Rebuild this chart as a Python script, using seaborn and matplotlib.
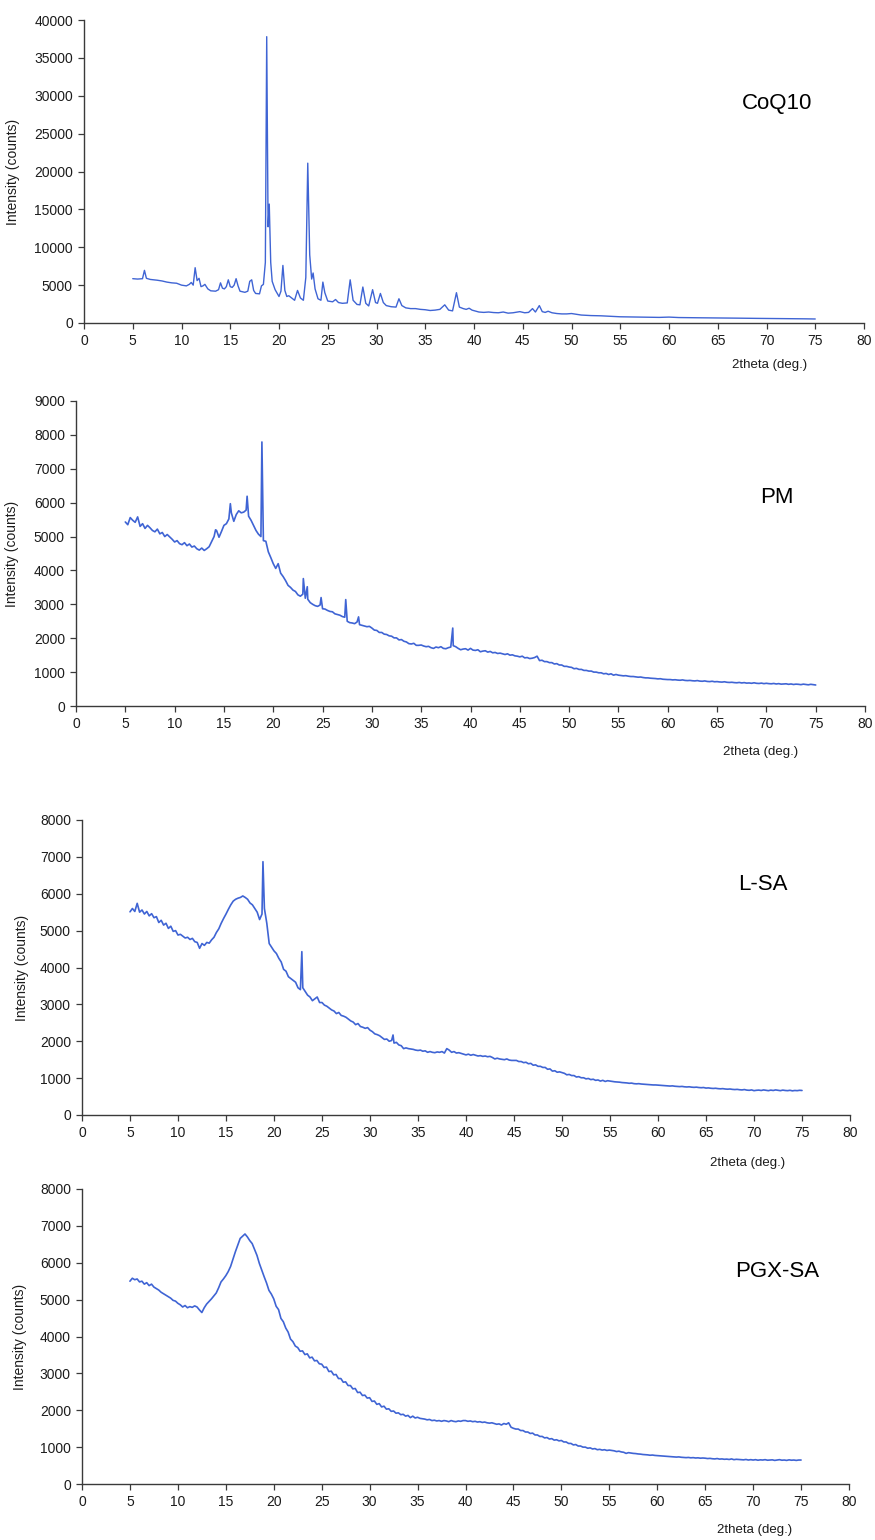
import numpy as np
import pandas as pd
import matplotlib
matplotlib.use("Agg")
import matplotlib.pyplot as plt
import seaborn as sns

# ---------------------------------------------------------------- data
# CoQ10: crystalline pattern, sampled around each reflection
coq10_tt = [
    5.0, 5.5, 6.0, 6.2, 6.4, 6.8, 7.5, 8.0, 8.5, 9.0,
    9.5, 10.0, 10.5, 10.8, 11.0, 11.2, 11.4, 11.6, 11.8, 12.0,
    12.2, 12.4, 12.7, 13.0, 13.5, 13.8, 14.0, 14.2, 14.4, 14.6,
    14.8, 15.0, 15.2, 15.4, 15.6, 15.8, 16.0, 16.5, 16.8, 17.0,
    17.2, 17.4, 17.6, 18.0, 18.2, 18.4, 18.6, 18.74, 18.88, 19.0,
    19.15, 19.3, 19.6, 20.0, 20.2, 20.4, 20.6, 20.8, 21.0, 21.3,
    21.6, 21.9, 22.2, 22.5, 22.75, 22.95, 23.15, 23.35, 23.5, 23.7,
    24.0, 24.3, 24.5, 24.7, 25.0, 25.5, 25.8, 26.1, 26.5, 27.0,
    27.3, 27.6, 28.0, 28.3, 28.6, 28.9, 29.2, 29.6, 29.9, 30.1,
    30.4, 30.7, 31.0, 31.5, 32.0, 32.3, 32.6, 33.0, 33.5, 34.0,
    34.5, 35.0, 35.5, 36.0, 36.5, 37.0, 37.4, 37.8, 38.2, 38.5,
    38.9, 39.2, 39.5, 39.8, 40.5, 41.0, 41.5, 42.0, 42.5, 43.0,
    43.5, 44.0, 44.7, 45.2, 45.6, 46.0, 46.3, 46.7, 47.0, 47.3,
    47.6, 48.0, 48.5, 49.0, 49.5, 50.0, 50.5, 51.0, 52.0, 53.0,
    54.0, 55.0, 56.0, 57.0, 58.0, 59.0, 60.0, 61.0, 62.0, 63.0,
    64.0, 65.0, 66.0, 67.0, 68.0, 69.0, 70.0, 71.0, 72.0, 73.0,
    74.0, 75.0,
]
coq10_counts = [
    5850, 5800, 5850, 6950, 5900, 5750, 5650, 5550, 5400, 5300,
    5250, 5000, 4900, 5100, 5350, 5000, 7300, 5600, 5900, 4800,
    4900, 5100, 4500, 4250, 4200, 4400, 5300, 4600, 4500, 4800,
    5700, 4800, 4700, 5000, 5850, 4900, 4200, 4050, 4200, 5500,
    5700, 4300, 3900, 3850, 4900, 5100, 8000, 37800, 12700, 15700,
    8000, 5500, 4400, 3500, 4200, 7600, 4300, 3500, 3600, 3300,
    3000, 4300, 3300, 3000, 6000, 21100, 9000, 5800, 6600, 4500,
    3200, 3000, 5400, 4000, 2900, 2800, 3100, 2700, 2600, 2650,
    5700, 3000, 2450, 2400, 4750, 2600, 2250, 4400, 2700, 2600,
    3900, 2700, 2300, 2150, 2100, 3200, 2300, 2000, 1900, 1900,
    1800, 1750, 1650, 1700, 1800, 2400, 1700, 1600, 4000, 2100,
    1900, 1800, 1950, 1700, 1450, 1400, 1450, 1380, 1350, 1450,
    1300, 1350, 1500, 1350, 1400, 1900, 1450, 2300, 1500, 1400,
    1550, 1350, 1250, 1200, 1200, 1250, 1150, 1050, 980, 950,
    880, 820, 800, 780, 760, 740, 780, 720, 700, 690,
    680, 660, 650, 640, 620, 610, 600, 590, 580, 570,
    550, 530,
]

# Amorphous samples: 0.25 deg scan steps from 5 to 75 deg
scan_tt = np.round(np.arange(5.0, 75.001, 0.25), 2)

pm_counts = [
    5430, 5350, 5560, 5480, 5420, 5580, 5300, 5380, 5240, 5330, 5260, 5180, 5140, 5220, 5080, 5120, 5000, 5060, 4990, 4920,
    4840, 4880, 4790, 4760, 4820, 4730, 4780, 4690, 4720, 4640, 4600, 4660, 4590, 4640, 4700, 4850, 5000, 5180, 4980, 5150,
    5330, 5380, 5520, 5700, 5450, 5650, 5760, 5700, 5720, 5780, 5600, 5480, 5330, 5180, 5070, 5000, 4880, 4860, 4550, 4380,
    4200, 4060, 4200, 3920, 3820, 3700, 3560, 3500, 3420, 3380, 3280, 3240, 3300, 3180, 3150, 3050, 3000, 2960, 2940, 2980,
    2870, 2860, 2820, 2790, 2780, 2720, 2700, 2680, 2640, 2620, 2500, 2460, 2450, 2430, 2480, 2400, 2380, 2360, 2340, 2350,
    2300, 2240, 2230, 2170, 2170, 2120, 2110, 2070, 2060, 2010, 2010, 1950, 1960, 1910, 1890, 1840, 1830, 1850, 1790, 1790,
    1800, 1770, 1750, 1760, 1720, 1700, 1740, 1720, 1750, 1700, 1690, 1720, 1740, 1780, 1750, 1700, 1660, 1680, 1690, 1650,
    1700, 1650, 1640, 1660, 1600, 1620, 1630, 1590, 1610, 1570, 1580, 1550, 1560, 1540, 1520, 1540, 1500, 1510, 1480, 1470,
    1450, 1470, 1420, 1430, 1400, 1410, 1430, 1470, 1340, 1350, 1310, 1310, 1280, 1280, 1240, 1250, 1210, 1210, 1170, 1170,
    1150, 1140, 1100, 1110, 1080, 1080, 1050, 1050, 1030, 1030, 1000, 1000, 980, 980, 950, 960, 930, 950, 910, 930,
    910, 900, 890, 895, 880, 870, 870, 860, 850, 855, 840, 830, 830, 820, 815, 810, 800, 805, 790, 785,
    780, 780, 770, 775, 765, 760, 770, 755, 750, 755, 745, 740, 750, 735, 730, 740, 725, 720, 730, 715,
    720, 710, 705, 715, 700, 695, 700, 690, 685, 695, 680, 690, 675, 680, 670, 685, 670, 665, 675, 660,
    670, 660, 655, 665, 650, 660, 645, 650, 655, 640, 650, 635, 645, 640, 630, 645, 635, 625, 640, 630,
    620,
]
pm_peak_tt = [14.15, 15.65, 17.35, 18.85, 23.05, 23.45, 24.85, 27.35, 28.65, 38.2]
pm_peak_counts = [5200, 5970, 6190, 7790, 3760, 3520, 3200, 3140, 2630, 2300]

lsa_counts = [
    5510, 5600, 5520, 5740, 5500, 5560, 5450, 5520, 5400, 5460, 5350, 5380, 5220, 5280, 5150, 5200, 5060, 5120, 4980, 5000,
    4880, 4900, 4850, 4800, 4820, 4760, 4790, 4700, 4680, 4520, 4650, 4600, 4680, 4660, 4750, 4820, 4950, 5050, 5200, 5330,
    5450, 5580, 5700, 5800, 5850, 5880, 5900, 5940, 5900, 5850, 5750, 5700, 5600, 5500, 5300, 5450, 5600, 5200, 4650, 4550,
    4450, 4380, 4250, 4150, 3950, 3900, 3750, 3700, 3650, 3600, 3450, 3400, 3450, 3350, 3250, 3200, 3100, 3150, 3200, 3050,
    3050, 2980, 2950, 2900, 2850, 2820, 2750, 2780, 2700, 2680, 2650, 2600, 2550, 2520, 2450, 2480, 2400, 2380, 2350, 2370,
    2300, 2260, 2200, 2180, 2150, 2100, 2050, 2060, 2000, 2020, 1950, 1970, 1900, 1880, 1800, 1820, 1800, 1790, 1780, 1760,
    1750, 1760, 1730, 1740, 1700, 1720, 1700, 1690, 1710, 1700, 1720, 1680, 1800, 1760, 1700, 1720, 1680, 1690, 1670, 1650,
    1630, 1650, 1620, 1640, 1620, 1600, 1610, 1590, 1600, 1580, 1590, 1560, 1520, 1540, 1520, 1510, 1500, 1520, 1490, 1480,
    1480, 1480, 1450, 1450, 1420, 1430, 1390, 1400, 1350, 1360, 1320, 1320, 1290, 1290, 1240, 1250, 1190, 1200, 1160, 1170,
    1150, 1130, 1090, 1100, 1070, 1070, 1030, 1040, 1010, 1010, 980, 990, 960, 970, 940, 950, 920, 940, 910, 930,
    920, 910, 900, 895, 890, 880, 875, 870, 860, 865, 850, 845, 850, 840, 835, 830, 825, 820, 815, 815,
    810, 805, 800, 795, 790, 785, 790, 780, 775, 770, 775, 765, 760, 765, 755, 750, 755, 745, 740, 745,
    730, 735, 725, 720, 725, 715, 710, 715, 705, 700, 705, 695, 690, 695, 685, 680, 690, 675, 670, 680,
    660, 670, 675, 665, 680, 670, 660, 675, 665, 680, 670, 660, 675, 665, 660, 670, 655, 665, 660, 670,
    665,
]
lsa_peak_tt = [18.85, 22.9, 32.4]
lsa_peak_counts = [6870, 4430, 2170]

pgx_counts = [
    5500, 5580, 5540, 5560, 5480, 5500, 5420, 5460, 5380, 5420, 5340, 5300, 5260, 5200, 5160, 5120, 5080, 5040, 4980, 4960,
    4900, 4860, 4800, 4840, 4780, 4810, 4790, 4830, 4800, 4720, 4650, 4780, 4880, 4950, 5020, 5100, 5180, 5320, 5480, 5560,
    5650, 5760, 5900, 6100, 6300, 6480, 6660, 6720, 6780, 6700, 6600, 6520, 6360, 6200, 5980, 5800, 5620, 5450, 5250, 5150,
    5020, 4820, 4730, 4490, 4400, 4230, 4120, 3930, 3860, 3740, 3700, 3600, 3610, 3510, 3530, 3420, 3440, 3340, 3350, 3260,
    3250, 3160, 3170, 3050, 3060, 2960, 2970, 2860, 2860, 2760, 2770, 2670, 2670, 2580, 2590, 2480, 2490, 2400, 2410, 2330,
    2340, 2240, 2250, 2160, 2180, 2090, 2110, 2030, 2040, 1970, 1980, 1920, 1930, 1880, 1890, 1840, 1860, 1800, 1840, 1790,
    1810, 1780, 1770, 1760, 1740, 1750, 1720, 1730, 1710, 1720, 1700, 1720, 1710, 1690, 1720, 1700, 1690, 1710, 1700, 1720,
    1720, 1700, 1710, 1690, 1700, 1680, 1690, 1670, 1680, 1660, 1650, 1660, 1640, 1620, 1630, 1600, 1640, 1620, 1660, 1540,
    1510, 1490, 1490, 1450, 1450, 1410, 1410, 1370, 1380, 1330, 1330, 1290, 1290, 1250, 1260, 1220, 1230, 1190, 1200, 1170,
    1180, 1140, 1140, 1100, 1100, 1060, 1070, 1030, 1030, 1000, 1000, 970, 980, 950, 960, 930, 940, 920, 930, 910,
    920, 910, 900, 880, 890, 870, 860, 830, 850, 840, 830, 825, 815, 810, 800, 795, 790, 780, 785, 775,
    770, 765, 760, 755, 750, 745, 740, 735, 730, 735, 725, 720, 715, 720, 710, 715, 705, 710, 700, 705,
    700, 690, 695, 685, 680, 690, 675, 680, 670, 675, 665, 680, 660, 670, 665, 660, 655, 665, 650, 660,
    650, 660, 645, 655, 650, 660, 645, 650, 655, 640, 650, 660, 645, 650, 640, 655, 645, 650, 640, 650,
    650,
]

sample_names = ["CoQ10", "PM", "L-SA", "PGX-SA"]
y_tops = [40000, 9000, 8000, 8000]
y_steps = [5000, 1000, 1000, 1000]
x_ticks = list(range(0, 81, 5))


def merged(base_tt, base_counts, peak_tt=(), peak_counts=()):
    df = pd.DataFrame({
        "tt": list(base_tt) + list(peak_tt),
        "counts": list(base_counts) + list(peak_counts),
    })
    return df.sort_values("tt").reset_index(drop=True)


frames = [
    merged(coq10_tt, coq10_counts),
    merged(scan_tt, pm_counts, pm_peak_tt, pm_peak_counts),
    merged(scan_tt, lsa_counts, lsa_peak_tt, lsa_peak_counts),
    merged(scan_tt, pgx_counts),
]

# ---------------------------------------------------------------- layout
sns.set_style("ticks")
plt.rcParams["font.family"] = ["Liberation Sans", "DejaVu Sans"]

W, H = 875, 1540
fig = plt.figure(figsize=(W / 100, H / 100), dpi=100)

# axes boxes in pixels: left, right, top, bottom
boxes = [
    (84, 864, 20, 323),
    (76, 865, 401, 706),
    (82, 850, 820, 1115),
    (82, 849, 1189, 1484),
]
ylabel_x = [-0.082, -0.072, -0.069, -0.072]
xlabel_pos = [(0.879, -0.139), (0.868, -0.151), (0.867, -0.163), (0.877, -0.156)]
name_pos = [(0.888, 0.723), (0.888, 0.685), (0.887, 0.78), (0.906, 0.719)]
line_widths = [1.0, 1.2, 1.2, 1.2]

line_color = "#3f64d4"
ink = "#1c1c1c"
spine_color = "#3a3a3a"

for i, df in enumerate(frames):
    l, r, t, b = boxes[i]
    ax = fig.add_axes([l / W, 1 - b / H, (r - l) / W, (b - t) / H])
    sns.lineplot(data=df, x="tt", y="counts", ax=ax, color=line_color,
                 linewidth=line_widths[i], estimator=None, sort=False)
    ax.set_xlim(0, 80)
    ax.set_ylim(0, y_tops[i])
    ax.set_xticks(x_ticks)
    ax.set_yticks(np.arange(0, y_tops[i] + 1, y_steps[i]))
    ax.tick_params(axis="both", direction="out", length=4, width=0.9,
                   color=spine_color, labelsize=10, labelcolor=ink, pad=4)
    for side in ("top", "right"):
        ax.spines[side].set_visible(False)
    for side in ("left", "bottom"):
        ax.spines[side].set_color(spine_color)
        ax.spines[side].set_linewidth(1.0)
    ax.set_ylabel("Intensity (counts)", fontsize=10, color=ink)
    ax.yaxis.set_label_coords(ylabel_x[i], 0.5)
    ax.set_xlabel("")
    ax.text(xlabel_pos[i][0], xlabel_pos[i][1], "2theta (deg.)",
            transform=ax.transAxes, ha="center", va="center",
            fontsize=9.5, color=ink)
    ax.text(name_pos[i][0], name_pos[i][1], sample_names[i],
            transform=ax.transAxes, ha="center", va="center",
            fontsize=16, color="black")

fig.savefig("out.png", dpi=100)
